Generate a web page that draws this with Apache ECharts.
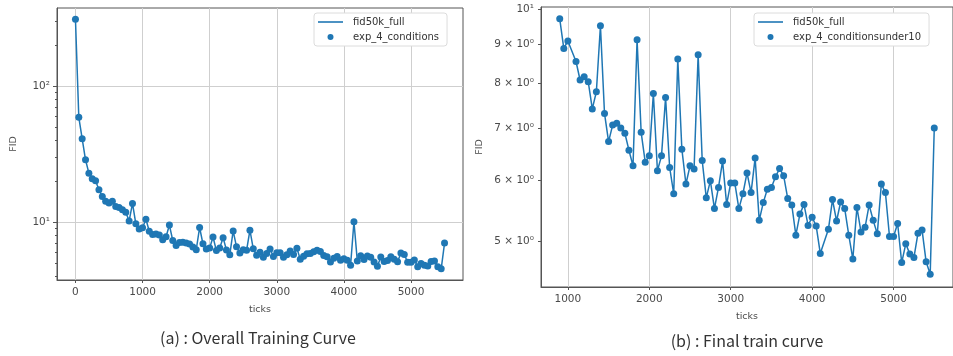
<!DOCTYPE html>
<html><head><meta charset="utf-8">
<script src="https://cdn.jsdelivr.net/npm/echarts@6/dist/echarts.min.js"></script>
<style>html,body{margin:0;padding:0;background:#fff}#c{width:953px;height:356px}</style>
</head><body><div id="c"></div>
<script>
// ---- data ----
const ticks = [0,50,100,150,200,250,300,350,400,450,500,550,600,650,700,750,800,850,
  900,950,1000,1050,1100,1150,1200,1250,1300,1350,1400,1450,1500,1550,1600,1650,1700,1750,
  1800,1850,1900,1950,2000,2050,2100,2150,2200,2250,2300,2350,2400,2450,2500,2550,2600,2650,
  2700,2750,2800,2850,2900,2950,3000,3050,3100,3150,3200,3250,3300,3350,3400,3450,3500,3550,
  3600,3650,3700,3750,3800,3850,3900,3950,4000,4050,4100,4150,4200,4250,4300,4350,4400,4450,
  4500,4550,4600,4650,4700,4750,4800,4850,4900,4950,5000,5050,5100,5150,5200,5250,5300,5350,
  5400,5450,5500];
const fid = [310,58.9,41.0,28.7,22.9,20.8,20.1,17.3,15.4,14.2,13.8,14.2,13.0,12.8,12.3,11.8,10.2,13.7,
  9.71,8.89,9.09,10.5,8.55,8.09,8.17,8.05,7.42,7.81,9.51,7.32,6.73,7.07,7.11,7.01,6.90,6.56,
  6.26,9.12,6.92,6.33,6.45,7.77,6.17,6.45,7.68,6.23,5.76,8.61,6.58,5.93,6.26,6.20,8.72,6.36,
  5.69,5.99,5.51,5.87,6.35,5.58,5.95,5.95,5.51,5.76,6.13,5.78,6.41,5.32,5.61,5.84,5.87,6.06,
  6.21,6.08,5.68,5.57,5.09,5.42,5.58,5.24,5.37,5.23,4.82,10.05,5.18,5.66,5.31,5.62,5.51,5.09,
  4.74,5.53,5.14,5.21,5.57,5.32,5.11,5.93,5.78,5.07,5.07,5.27,4.69,4.96,4.81,4.76,5.12,5.17,
  4.70,4.53,7.01];
const under10Limit = 10;
const xTickValues = [0,1000,2000,3000,4000,5000];
const leftYMajor = [10,100];
const leftYMajorLabels = ['10\u00B9','10\u00B2'];
const leftYMinor = [4,5,6,7,8,9,20,30,40,50,60,70,80,90,200,300];
const rightYValues = [5,6,7,8,9,10];
const rightYLabels = ['5 \u00D7 10\u2070','6 \u00D7 10\u2070','7 \u00D7 10\u2070','8 \u00D7 10\u2070','9 \u00D7 10\u2070','10\u00B9'];
const lineName = 'fid50k_full';
const leftScatterName = 'exp_4_conditions';
const rightScatterName = 'exp_4_conditionsunder10';
const captions = ['(a) : Overall Training Curve', '(b) : Final train curve'];

// ---- build ----
const allPairs = ticks.map((t, i) => [t, fid[i]]);
const under10 = allPairs.filter(p => p[1] < under10Limit);
const C0 = '#1f77b4';
const txt = '#4a4a4a';
const spine = '#555';
const gridCol = '#cfcfcf';
const tickFont = {fontFamily: 'DejaVu Sans', fontSize: 10.5, color: txt};

function xAxis(gridIndex, min, max, nameGap) {
  return {
    type: 'value', gridIndex, min, max,
    name: 'ticks', nameLocation: 'middle', nameGap,
    nameTextStyle: {fontFamily: 'DejaVu Sans', fontSize: 9.5, color: txt},
    axisLine: {show: true, onZero: false, lineStyle: {color: spine, width: 1}},
    axisTick: {show: true, length: 3, inside: false, customValues: xTickValues, lineStyle: {color: spine}},
    axisLabel: Object.assign({customValues: xTickValues, margin: 7, formatter: v => String(v)}, tickFont),
    splitLine: {show: true, lineStyle: {color: gridCol, width: 1}}
  };
}

const lineIcon = 'path://M0,0 L25,0 L25,1.6 L0,1.6 Z';
const legendCommon = {
  orient: 'vertical', top: 13,
  backgroundColor: '#fff', borderColor: '#dcdcdc', borderWidth: 1, borderRadius: 3,
  padding: [4, 8, 4, 4], itemWidth: 25, itemHeight: 6, itemGap: 5,
  textStyle: {fontFamily: 'DejaVu Sans', fontSize: 10, color: '#333', padding: [0, 0, 0, 5]}
};

const option = {
  animation: false,
  backgroundColor: '#fff',
  grid: [
    {left: 57, top: 8, width: 406, height: 272, show: true, borderColor: spine, borderWidth: 1, backgroundColor: 'transparent'},
    {left: 541, top: 7, width: 416, height: 280, show: true, borderColor: spine, borderWidth: 1, backgroundColor: 'transparent'}
  ],
  xAxis: [xAxis(0, -275, 5775, 25), xAxis(1, 670, 5730, 25)],
  yAxis: [
    {
      type: 'log', logBase: 10, gridIndex: 0, min: 3.75, max: 375, position: 'left',
      name: 'FID', nameLocation: 'middle', nameGap: 38, nameRotate: 90,
      nameTextStyle: {fontFamily: 'DejaVu Sans', fontSize: 9.5, color: txt},
      axisLine: {show: true, onZero: false, lineStyle: {color: spine}},
      axisTick: {show: true, length: 4, customValues: leftYMajor, lineStyle: {color: spine}},
      axisLabel: Object.assign({customValues: leftYMajor, margin: 7,
        formatter: v => leftYMajorLabels[leftYMajor.indexOf(Math.round(v))] || ''}, tickFont),
      splitLine: {show: true, lineStyle: {color: gridCol, width: 1}}
    },
    {
      type: 'log', logBase: 10, gridIndex: 0, min: 3.75, max: 375, position: 'left',
      axisLine: {show: false, onZero: false},
      axisTick: {show: true, length: 2, customValues: leftYMinor, lineStyle: {color: spine}},
      axisLabel: {show: false},
      splitLine: {show: false}
    },
    {
      type: 'log', logBase: 10, gridIndex: 1, min: 4.36, max: 10.06, position: 'left',
      name: 'FID', nameLocation: 'middle', nameGap: 56, nameRotate: 90,
      nameTextStyle: {fontFamily: 'DejaVu Sans', fontSize: 9.5, color: txt},
      axisLine: {show: true, onZero: false, lineStyle: {color: spine}},
      axisTick: {show: true, length: 3, customValues: rightYValues, lineStyle: {color: spine}},
      axisLabel: Object.assign({customValues: rightYValues, margin: 7,
        formatter: v => rightYLabels[rightYValues.indexOf(Math.round(v))] || ''}, tickFont),
      splitLine: {show: false}
    }
  ],
  legend: [
    Object.assign({}, legendCommon, {left: 314, data: [{name: lineName, icon: lineIcon}, {name: leftScatterName, icon: 'circle'}]}),
    Object.assign({}, legendCommon, {left: 754, data: [{name: lineName, icon: lineIcon}, {name: rightScatterName, icon: 'circle'}]})
  ],
  series: [
    {name: lineName, type: 'line', xAxisIndex: 0, yAxisIndex: 0, data: allPairs, symbol: 'none',
     lineStyle: {color: C0, width: 1.5}, itemStyle: {color: C0}, z: 2},
    {name: leftScatterName, type: 'scatter', xAxisIndex: 0, yAxisIndex: 0, data: allPairs, symbolSize: 7,
     itemStyle: {color: C0, opacity: 1}, z: 3},
    {name: lineName, type: 'line', xAxisIndex: 1, yAxisIndex: 2, data: under10, symbol: 'none',
     lineStyle: {color: C0, width: 1.5}, itemStyle: {color: C0}, z: 2},
    {name: rightScatterName, type: 'scatter', xAxisIndex: 1, yAxisIndex: 2, data: under10, symbolSize: 7,
     itemStyle: {color: C0, opacity: 1}, z: 3}
  ],
  graphic: [
    {type: 'text', x: 258, y: 338, style: {text: captions[0], align: 'center', verticalAlign: 'middle',
      font: '16px "Noto Sans CJK JP"', fill: '#333'}},
    {type: 'text', x: 747, y: 341, style: {text: captions[1], align: 'center', verticalAlign: 'middle',
      font: '16px "Noto Sans CJK JP"', fill: '#333'}}
  ]
};
const chart = echarts.init(document.getElementById('c'), null, {renderer: 'canvas'});
chart.setOption(option);
</script>
</body></html>
